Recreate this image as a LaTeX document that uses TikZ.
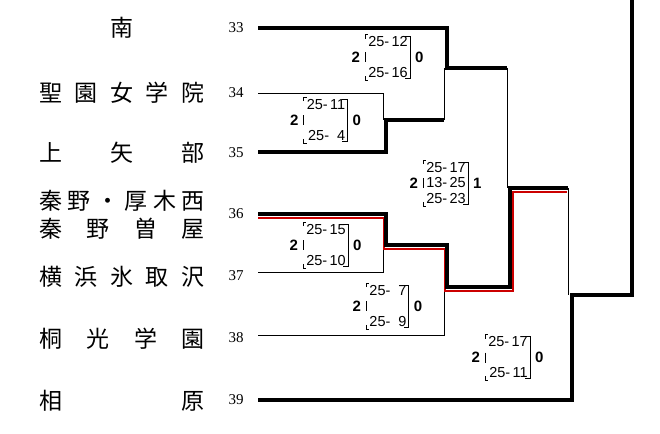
\documentclass[tikz,border=0pt]{standalone}
\usepackage{fontspec}
\usetikzlibrary{positioning}
\setmainfont{Liberation Serif}
\setsansfont{Liberation Sans}
\newfontfamily\jp{Noto Sans CJK JP}
\tikzset{
  win/.style={line width=4pt},
  lose/.style={line width=0.6pt},
  redline/.style={draw=red!80!black, line width=1.6pt},
  team/.style={font=\jp\fontsize{23}{23}\selectfont, inner sep=0pt},
  seed/.style={font=\fontsize{15}{15}\selectfont, inner sep=0pt},
  sets/.style={font=\sffamily\bfseries\fontsize{15}{15}\selectfont, inner sep=0pt},
  pts/.style={font=\sffamily\fontsize{14.5}{31}\selectfont, inner sep=0pt, align=right},
  pts3/.style={pts, font=\sffamily\fontsize{14.5}{15.5}\selectfont}
}
\newcommand{\scorebox}[6]{% name, style, x, y, lines, right sets
  \node[#2] (#1) at (#3,#4) {#5};
  \node[sets, left=8pt of #1] (#1l) {2};
  \node[sets, right=7pt of #1] (#1r) {#6};
  \draw[lose] ([xshift=-3pt,yshift=-2pt]#1.north west) -- ++(0,4pt) -- ++(3pt,0)
              ([xshift=-3pt,yshift=2pt]#1.south west) -- ++(0,-4pt) -- ++(3pt,0)
              ([xshift=-3pt]#1.west) ++(0,5pt) -- ++(0,-10pt);
  \draw[lose] ([xshift=-3pt]#1.north east) -- ++(5pt,0) |- ([xshift=-3pt]#1.south east);
}
\begin{document}
\begin{tikzpicture}[x=1pt,y=-1pt]
\useasboundingbox (0,0) rectangle (660,433);
% teams
\node[team] (t33) at (122,28) {南};
\node[team] (t34) at (122,93) {\makebox[165pt][s]{聖\hfill 園\hfill 女\hfill 学\hfill 院}};
\node[team] (t35) at (122,153) {\makebox[165pt][s]{上\hfill 矢\hfill 部}};
\node[team] (t36a) at (122,201) {\makebox[165pt][s]{秦\hfill 野\hfill ・\hfill 厚\hfill 木\hfill 西}};
\node[team] (t36b) at (122,229) {\makebox[165pt][s]{秦\hfill 野\hfill 曽\hfill 屋}};
\node[team] (t37) at (122,277) {\makebox[165pt][s]{横\hfill 浜\hfill 氷\hfill 取\hfill 沢}};
\node[team] (t38) at (122,339) {\makebox[165pt][s]{桐\hfill 光\hfill 学\hfill 園}};
\node[team] (t39) at (122,401) {\makebox[165pt][s]{相\hfill 原}};
% seeds
\foreach \n/\y in {33/28,34/93,35/153,36/214,37/276,38/338,39/400}
  \node[seed] (s\n) at (236,\y) {\n};
% bracket lines
\coordinate (c33) at (258,28);
\coordinate (c34) at (258,93);
\coordinate (c35) at (258,152);
\coordinate (c36) at (258,214);
\coordinate (c37) at (258,272);
\coordinate (c38) at (258,335);
\coordinate (c39) at (258,400);
\draw[lose] (c34) -| (383,120);
\draw[win] (c35) -| (386,120) -- (444,120);
\draw[lose] (444,120) -- (444,68);
\draw[win] (c33) -| (447,68) -- (507,68);
\draw[lose] (507,68) -- (507,188);
\draw[lose] (c37) -| (383,245);
\draw[lose] (c38) -| (444,287);
\draw[redline] (258,218) -| (384,249) -| (445,291) -| (513,192) -- (567,192);
\draw[win] (c36) -| (386,245) -| (447,287) -| (510,188) -- (568,188);
\draw[lose] (568,188) -- (568,295);
\draw[win] (c39) -| (572,295) -| (632,0);
% scores
\scorebox{sa}{pts}{388}{57.5}{25-\,12\\25-\,16}{0}
\scorebox{sb}{pts}{326}{120}{25-\,11\\25-\ \ 4}{0}
\scorebox{sc}{pts3}{446}{183}{25-\,17\\13-\,25\\25-\,23}{1}
\scorebox{sd}{pts}{326}{245}{25-\,15\\25-\,10}{0}
\scorebox{se}{pts}{388}{306}{25-\ \ 7\\25-\ \ 9}{0}
\scorebox{sf}{pts}{508}{357.5}{25-\,17\\25-\,11}{0}
\end{tikzpicture}
\end{document}
